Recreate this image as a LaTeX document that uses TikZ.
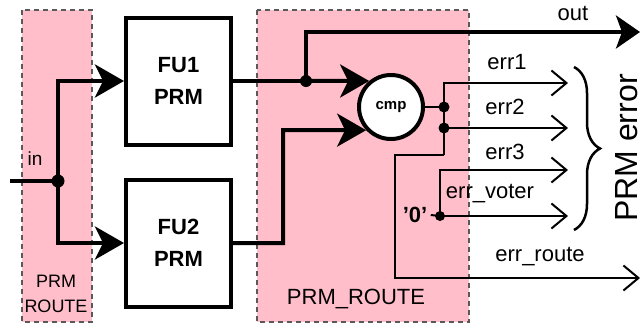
\documentclass[tikz,border=0pt]{standalone}
\usepackage{fontspec}
\setmainfont{Liberation Sans}
\usetikzlibrary{arrows.meta,decorations.pathreplacing}
\definecolor{routepink}{RGB}{255,190,201}

\begin{document}
\begin{tikzpicture}[x=1pt,y=-1pt,
        route/.style={fill=routepink, draw=black!65, line width=1.3pt, dash pattern=on 5pt off 4pt},
        fu/.style={draw, line width=4pt, fill=white, minimum width=105pt, minimum height=127pt,
            align=center, font=\bfseries\fontsize{22}{32}\selectfont},
        bus/.style={line width=4pt, -{Stealth[length=29pt,width=33pt,inset=8pt]}},
        wire/.style={line width=2pt},
        sig/.style={line width=2pt, -{Straight Barb[length=15pt,width=25pt]}},
        junc/.style={circle, fill, inner sep=0pt, minimum size=#1},
        lbl/.style={font=\fontsize{22}{26}\selectfont}]
    \useasboundingbox (0,0) rectangle (644,327);
    % routing areas
    \draw[route] (22,10) rectangle (92,322);
    \draw[route] (257,10) rectangle (469,322);
    \node[font=\fontsize{18}{25}\selectfont, align=center] (lroute) at (56,294) {PRM\\ROUTE};
    \node[lbl] (mroute) at (356,299) {PRM\_ROUTE};

    \node[fu] (fu1) at (178.5,81) {FU1\\PRM};
    \node[fu] (fu2) at (178.5,243) {FU2\\PRM};
    \node[circle, draw, line width=4pt, fill=white, minimum size=64pt,
        font=\bfseries\fontsize{15}{18}\selectfont] (cmp) at (391,107) {cmp};

    % input fan-out
    \coordinate (inp) at (10,181);
    \node[junc=13pt] (jin) at (58,181) {};
    \node[font=\fontsize{19}{22}\selectfont] (inlbl) at (35,159) {in};
    \draw[line width=4pt] (inp) -- (jin.center);
    \draw[bus] (jin.center) |- (fu1.west);
    \draw[bus] (jin.center) |- (fu2.west);

    % outputs to the comparator
    \node[junc=12pt] (j1) at (306,81) {};
    \coordinate (k2) at (283,130);
    \coordinate (oute) at (640,32);
    \draw[line width=4pt] (fu1.east) -- (j1.center);
    \draw[bus] (j1.center) -- (cmp.130);
    \draw[bus] (fu2.east) -| (k2) -- (cmp.223);
    \draw[line width=4pt, -{Stealth[length=24pt,width=33pt,inset=6pt]}] (j1.center) |- (oute);
    \node[lbl] (outlbl) at (573,13) {out};

    % error signals
    \node[junc=11pt] (jc) at (444,107) {};
    \node[junc=11pt] (je2) at (444,128) {};
    \coordinate (e1) at (444,83);
    \coordinate (eb) at (444,155);
    \coordinate (rb) at (395,155);
    \coordinate (t1) at (568,83);
    \coordinate (t2) at (568,128);
    \coordinate (tr) at (640,278);
    \draw[wire] (cmp.east) -- (jc.center);
    \draw[sig] (eb) -- (e1) -- (t1);
    \draw[sig] (je2.center) -- (t2);
    \draw[sig] (eb) -- (rb) |- (tr);

    \node[font=\bfseries\fontsize{22}{26}\selectfont] (zero) at (415,215) {’0’};
    \node[junc=10pt] (j0) at (440,216) {};
    \coordinate (e3) at (440,170);
    \coordinate (t3) at (568,170);
    \coordinate (t4) at (568,216);
    \draw[wire] (zero.east) -- (j0.center);
    \draw[sig] (j0.center) -- (t4);
    \draw[sig] (j0.center) -- (e3) -- (t3);

    \node[lbl] (err1) at (507,62) {err1};
    \node[lbl] (err2) at (505,107) {err2};
    \node[lbl] (err3) at (505,152) {err3};
    \node[lbl] (errv) at (490,194) {err\_voter};
    \node[lbl] (errr) at (540,257) {err\_route};

    \coordinate (b1) at (574,67);
    \coordinate (b2) at (574,230);
    \draw[line width=2.5pt, decorate, decoration={brace, amplitude=26pt}] (b1) -- (b2);
    \node[rotate=90, inner sep=0pt, font=\fontsize{32}{38}\selectfont] (prmerr) at (627,148) {PRM error};
\end{tikzpicture}
\end{document}
